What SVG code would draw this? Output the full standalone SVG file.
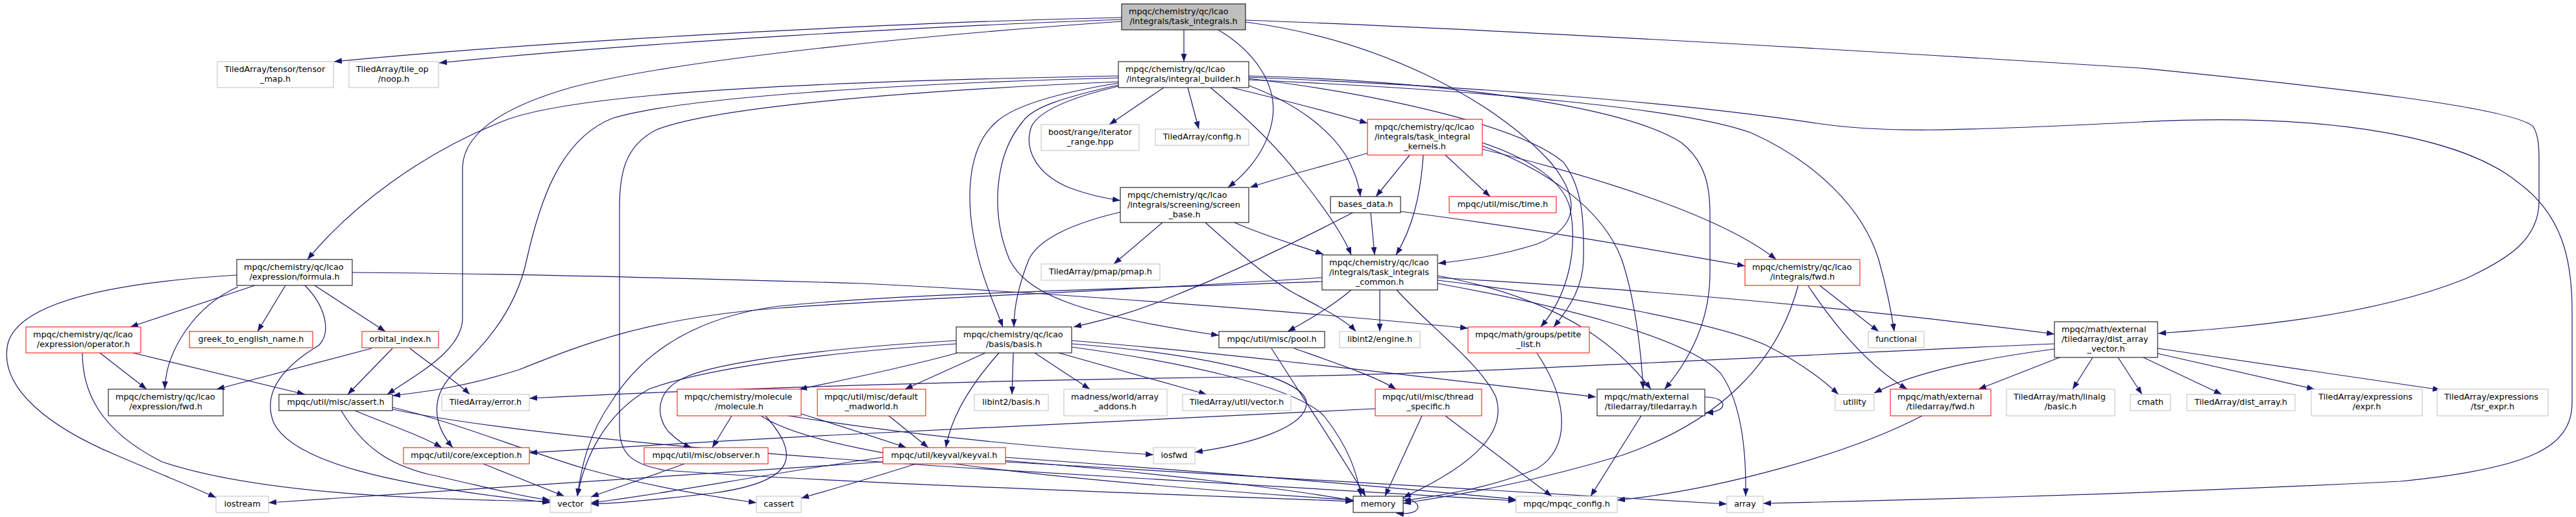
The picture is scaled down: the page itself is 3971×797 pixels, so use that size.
<svg xmlns="http://www.w3.org/2000/svg" width="3971" height="797" viewBox="0 0 3971 797">
<defs>
<marker id="a" markerUnits="userSpaceOnUse" markerWidth="12" markerHeight="9" refX="12" refY="4.5" orient="auto"><path d="M0,0 L12,4.5 L0,9 z" fill="#191970"/></marker>
<style>
rect{fill:#fff;stroke-width:1}
.b rect{stroke:#000}.r rect{stroke:#ff0000}.g rect{stroke:#bfbfbf}.k rect{fill:#bfbfbf;stroke:#000}
text{font-family:"DejaVu Sans","Liberation Sans",sans-serif;font-size:12.8px;fill:#000}
.c{text-anchor:middle}
#edges path{fill:none;stroke:#191970;stroke-width:1.2;marker-end:url(#a)}
</style>
</defs>
<rect x="0" y="0" width="3971" height="797" style="fill:#fff;stroke:none"/>
<g id="edges">
<path d="M1729,27 C1450,33 900,58 515,95"/>
<path d="M1729,30 C1450,40 1000,64 677,97"/>
<path d="M1825,46 L1825,95"/>
<path d="M1878,46 C1935,80 1968,130 1962,180 C1956,225 1928,262 1893,289"/>
<path d="M1729,33 C1450,52 1050,90 880,135 C775,165 713,205 713,260 L713,490 C713,540 645,575 597,608"/>
<path d="M1920,34 C2120,60 2300,150 2390,250 C2440,310 2430,352 2370,376 C2310,395 2260,401 2217,406"/>
<path d="M1920,31 C2300,45 2900,80 3300,105 C3600,135 3870,165 3905,195 C3914,210 3914,230 3914,250 L3914,310 C3914,370 3865,400 3800,430 C3650,490 3450,505 3327,514"/>
<path d="M1724,117 C1300,125 900,140 780,185 C650,235 540,320 474,400"/>
<path d="M1724,120 C1400,128 1050,150 945,182 C860,215 830,320 812,400 C795,480 745,535 705,570 C660,610 668,655 698,690"/>
<path d="M1724,126 C1400,140 1100,165 1012,200 C962,225 955,270 955,320 L955,660 C955,700 975,716 1025,725 C1300,745 1800,762 2086,773"/>
<path d="M1724,128 C1620,145 1562,165 1537,187 C1492,225 1490,300 1500,360 C1510,420 1530,462 1546,504"/>
<path d="M1724,131 C1640,150 1592,165 1577,187 C1532,240 1527,330 1556,400 C1582,452 1660,485 1879,517"/>
<path d="M1724,133 C1652,150 1602,170 1590,195 C1577,232 1600,270 1650,290 C1680,301 1705,306 1727,309"/>
<path d="M1794,135 L1710,192"/>
<path d="M1831,135 L1848,199"/>
<path d="M1866,135 C1920,180 1970,228 2000,268 C2040,318 2070,360 2083,393"/>
<path d="M1899,135 C1980,155 2050,172 2108,190"/>
<path d="M1925,132 C2000,160 2050,200 2075,240 C2090,268 2095,285 2097,303"/>
<path d="M1925,117 C2200,124 2500,160 2592,220 C2630,250 2636,290 2636,330 L2636,420 C2636,500 2600,560 2566,600"/>
<path d="M1925,121 C2150,148 2350,198 2410,250 C2440,290 2442,340 2441,400 C2440,440 2422,472 2395,504"/>
<path d="M1925,123 C2300,140 2600,168 2700,205 C2800,250 2872,322 2896,400 C2910,450 2917,490 2920,511"/>
<path d="M1925,119 C2300,135 2600,160 2800,190 C2900,205 3000,203 3300,188 C3600,172 3800,215 3880,280 C3950,330 3965,400 3965,480 L3965,620 C3965,690 3900,722 3700,742 C3300,762 2900,772 2718,776"/>
<path d="M1727,327 C1650,345 1600,370 1586,400 C1570,440 1563,472 1563,504"/>
<path d="M1792,343 L1717,407"/>
<path d="M1858,343 C1905,385 1955,430 1995,452 C2040,476 2075,494 2090,511"/>
<path d="M1903,343 C1950,364 2000,378 2040,392"/>
<path d="M2108,236 C2050,254 1982,270 1927,289"/>
<path d="M2173,239 L2121,303"/>
<path d="M2194,239 C2190,300 2178,350 2152,393"/>
<path d="M2228,239 L2297,303"/>
<path d="M2285,220 C2360,245 2410,280 2420,320 C2432,380 2420,452 2375,504"/>
<path d="M2285,230 C2450,270 2650,330 2738,400"/>
<path d="M2285,225 C2380,260 2470,320 2500,400 C2520,460 2530,540 2533,600"/>
<path d="M2085,328 C2000,372 1900,420 1800,460 C1740,485 1690,496 1655,504"/>
<path d="M2113,328 L2119,393"/>
<path d="M2159,326 C2350,350 2550,385 2690,410"/>
<path d="M2083,447 C2050,475 2012,496 1985,511"/>
<path d="M2127,447 L2127,511"/>
<path d="M2153,447 C2200,500 2282,560 2306,612 C2322,662 2282,712 2163,767"/>
<path d="M2038,428 C1700,450 1400,460 1200,475 C1000,490 900,530 800,570 C720,595 665,603 605,610"/>
<path d="M2038,434 C1700,447 1400,452 1200,472 C1050,492 980,560 942,620 C907,670 896,720 890,765"/>
<path d="M2216,432 C2450,460 2650,500 2722,532 C2782,562 2815,590 2834,608"/>
<path d="M2216,428 C2600,450 2900,480 3167,515"/>
<path d="M2216,437 C2400,470 2600,520 2652,575 C2686,622 2692,700 2691,765"/>
<path d="M2216,425 C2350,450 2470,500 2545,600"/>
<path d="M365,424 C200,434 30,460 12,530 C-3,600 80,660 180,702 C250,732 300,752 333,767"/>
<path d="M393,440 L201,504"/>
<path d="M367,442 C300,472 256,540 254,600"/>
<path d="M440,440 L397,511"/>
<path d="M485,440 L594,511"/>
<path d="M470,440 C500,470 512,510 492,532 C442,562 402,602 422,652 C452,712 600,748 848,775"/>
<path d="M543,420 C800,422 1100,430 1330,437 C1600,450 2000,480 2263,506"/>
<path d="M127,544 C127,600 150,662 250,712 C400,762 650,770 848,773"/>
<path d="M154,544 L226,600"/>
<path d="M205,544 L470,608"/>
<path d="M573,537 L334,600"/>
<path d="M605,537 L536,608"/>
<path d="M632,537 C660,560 702,586 724,608"/>
<path d="M547,633 C600,655 650,672 681,690"/>
<path d="M526,633 C560,690 600,716 660,731 C750,751 800,765 848,771"/>
<path d="M605,628 C700,650 800,692 900,722 C1000,750 1100,766 1166,775"/>
<path d="M605,631 C800,672 1200,702 1500,722 C1900,747 2150,762 2337,772"/>
<path d="M745,715 L870,765"/>
<path d="M1055,715 C1000,735 950,752 911,766"/>
<path d="M1128,641 L1098,690"/>
<path d="M1180,641 C1232,700 1232,742 1100,760 C1000,772 950,776 911,777"/>
<path d="M1235,638 C1300,658 1352,675 1397,690"/>
<path d="M1215,641 C1400,670 1600,690 1778,701"/>
<path d="M1173,641 C1250,692 1500,732 2086,771"/>
<path d="M1370,641 L1431,690"/>
<path d="M1476,544 C1400,565 1300,586 1232,600"/>
<path d="M1519,544 L1395,600"/>
<path d="M1540,544 C1490,600 1465,650 1458,690"/>
<path d="M1562,544 L1560,608"/>
<path d="M1595,544 L1680,600"/>
<path d="M1632,544 L1860,608"/>
<path d="M1474,525 C1300,535 1120,555 1060,580 C1010,600 1010,640 1030,665 C1045,680 1055,686 1066,690"/>
<path d="M1474,530 C1250,545 1080,570 1000,600 C930,640 900,710 890,765"/>
<path d="M2120,630 C1800,645 1500,660 1300,670 C1100,680 950,690 816,698"/>
<path d="M1652,525 C1900,545 2200,582 2460,612"/>
<path d="M1652,530 C1850,545 2010,580 2014,620 C2016,660 1920,686 1842,697"/>
<path d="M1652,535 C1800,555 1990,592 2040,640 C2080,690 2092,730 2098,765"/>
<path d="M1995,537 C2060,560 2120,580 2152,600"/>
<path d="M1960,537 C2000,600 2060,690 2105,765"/>
<path d="M2192,641 L2135,765"/>
<path d="M2228,641 L2392,765"/>
<path d="M2369,544 C2420,620 2420,692 2370,722 C2300,752 2220,764 2163,772"/>
<path d="M2530,641 L2452,765"/>
<path d="M2628,612 C2665,612 2665,636 2629,636"/>
<path d="M2772,440 C2740,560 2650,650 2500,702 C2350,747 2250,762 2163,776"/>
<path d="M2787,440 C2840,520 2890,570 2940,600"/>
<path d="M2805,440 L2896,511"/>
<path d="M3167,530 C2800,545 2300,575 1990,580 C1500,586 1100,600 816,614"/>
<path d="M3167,538 C3000,560 2930,585 2889,606"/>
<path d="M3175,551 L3050,600"/>
<path d="M3226,551 L3195,600"/>
<path d="M3265,551 L3302,608"/>
<path d="M3304,551 L3425,608"/>
<path d="M3326,545 L3568,600"/>
<path d="M3326,537 L3762,601"/>
<path d="M2963,641 C2850,700 2650,755 2493,771"/>
<path d="M1361,712 C1100,727 800,747 414,775"/>
<path d="M1361,705 C1200,727 1000,766 911,775"/>
<path d="M1412,715 C1350,735 1290,752 1235,768"/>
<path d="M1550,710 C1800,730 2000,756 2086,772"/>
<path d="M1550,705 C1900,730 2200,756 2337,770"/>
<path d="M1550,712 C2000,740 2400,762 2662,777"/>
<path d="M2163,768 C2195,772 2195,796 2152,791"/>
</g>
<g id="n0" class="k"><rect x="1729" y="6" width="191" height="40"/><text x="1740" y="22">mpqc/chemistry/qc/lcao</text><text class="c" x="1824.5" y="37">/integrals/task_integrals.h</text></g>
<g id="n1" class="g"><rect x="335" y="95" width="179" height="40"/><text x="346" y="111">TiledArray/tensor/tensor</text><text class="c" x="424.5" y="126">_map.h</text></g>
<g id="n2" class="g"><rect x="538" y="95" width="138" height="40"/><text x="549" y="111">TiledArray/tile_op</text><text class="c" x="607" y="126">/noop.h</text></g>
<g id="n3" class="b"><rect x="1724" y="95" width="201" height="40"/><text x="1735" y="111">mpqc/chemistry/qc/lcao</text><text class="c" x="1824.5" y="126">/integrals/integral_builder.h</text></g>
<g id="n4" class="g"><rect x="1605" y="192" width="151" height="40"/><text x="1616" y="208">boost/range/iterator</text><text class="c" x="1680.5" y="223">_range.hpp</text></g>
<g id="n5" class="g"><rect x="1781" y="199" width="144" height="25"/><text class="c" x="1853" y="215">TiledArray/config.h</text></g>
<g id="n6" class="r"><rect x="2108" y="184" width="177" height="55"/><text x="2119" y="200">mpqc/chemistry/qc/lcao</text><text x="2119" y="215">/integrals/task_integral</text><text class="c" x="2196.5" y="230">_kernels.h</text></g>
<g id="n7" class="b"><rect x="1727" y="289" width="198" height="54"/><text x="1738" y="305">mpqc/chemistry/qc/lcao</text><text x="1738" y="320">/integrals/screening/screen</text><text class="c" x="1826" y="335">_base.h</text></g>
<g id="n8" class="b"><rect x="2051" y="303" width="108" height="25"/><text class="c" x="2105" y="319">bases_data.h</text></g>
<g id="n9" class="r"><rect x="2234" y="303" width="165" height="25"/><text class="c" x="2316.5" y="319">mpqc/util/misc/time.h</text></g>
<g id="n10" class="b"><rect x="2038" y="393" width="178" height="54"/><text x="2049" y="409">mpqc/chemistry/qc/lcao</text><text x="2049" y="424">/integrals/task_integrals</text><text class="c" x="2127" y="439">_common.h</text></g>
<g id="n11" class="b"><rect x="365" y="400" width="178" height="40"/><text x="376" y="416">mpqc/chemistry/qc/lcao</text><text class="c" x="454" y="431">/expression/formula.h</text></g>
<g id="n12" class="g"><rect x="1605" y="407" width="183" height="25"/><text class="c" x="1696.5" y="423">TiledArray/pmap/pmap.h</text></g>
<g id="n13" class="r"><rect x="2690" y="400" width="177" height="40"/><text x="2701" y="416">mpqc/chemistry/qc/lcao</text><text class="c" x="2778.5" y="431">/integrals/fwd.h</text></g>
<g id="n14" class="r"><rect x="40" y="504" width="177" height="40"/><text x="51" y="520">mpqc/chemistry/qc/lcao</text><text class="c" x="128.5" y="535">/expression/operator.h</text></g>
<g id="n15" class="r"><rect x="292" y="511" width="190" height="25"/><text class="c" x="387" y="527">greek_to_english_name.h</text></g>
<g id="n16" class="r"><rect x="558" y="511" width="118" height="25"/><text class="c" x="617" y="527">orbital_index.h</text></g>
<g id="n17" class="b"><rect x="1474" y="504" width="178" height="40"/><text x="1485" y="520">mpqc/chemistry/qc/lcao</text><text class="c" x="1563" y="535">/basis/basis.h</text></g>
<g id="n18" class="b"><rect x="1879" y="511" width="163" height="25"/><text class="c" x="1960.5" y="527">mpqc/util/misc/pool.h</text></g>
<g id="n19" class="g"><rect x="2065" y="511" width="124" height="25"/><text class="c" x="2127" y="527">libint2/engine.h</text></g>
<g id="n20" class="r"><rect x="2263" y="504" width="187" height="40"/><text x="2274" y="520">mpqc/math/groups/petite</text><text class="c" x="2356.5" y="535">_list.h</text></g>
<g id="n21" class="g"><rect x="2880" y="511" width="86" height="25"/><text class="c" x="2923" y="527">functional</text></g>
<g id="n22" class="b"><rect x="3167" y="496" width="159" height="55"/><text x="3178" y="512">mpqc/math/external</text><text x="3178" y="527">/tiledarray/dist_array</text><text class="c" x="3246.5" y="542">_vector.h</text></g>
<g id="n23" class="b"><rect x="167" y="600" width="177" height="41"/><text x="178" y="616">mpqc/chemistry/qc/lcao</text><text class="c" x="255.5" y="631">/expression/fwd.h</text></g>
<g id="n24" class="b"><rect x="430" y="608" width="175" height="25"/><text class="c" x="517.5" y="624">mpqc/util/misc/assert.h</text></g>
<g id="n25" class="g"><rect x="681" y="608" width="135" height="25"/><text class="c" x="748.5" y="624">TiledArray/error.h</text></g>
<g id="n26" class="r"><rect x="1044" y="600" width="191" height="41"/><text x="1055" y="616">mpqc/chemistry/molecule</text><text class="c" x="1139.5" y="631">/molecule.h</text></g>
<g id="n27" class="r"><rect x="1260" y="600" width="167" height="41"/><text x="1271" y="616">mpqc/util/misc/default</text><text class="c" x="1343.5" y="631">_madworld.h</text></g>
<g id="n28" class="g"><rect x="1502" y="608" width="114" height="25"/><text class="c" x="1559" y="624">libint2/basis.h</text></g>
<g id="n29" class="g"><rect x="1640" y="600" width="159" height="41"/><text x="1651" y="616">madness/world/array</text><text class="c" x="1719.5" y="631">_addons.h</text></g>
<g id="n30" class="g"><rect x="1823" y="608" width="167" height="25"/><text class="c" x="1906.5" y="624">TiledArray/util/vector.h</text></g>
<g id="n31" class="r"><rect x="2120" y="600" width="164" height="41"/><text x="2131" y="616">mpqc/util/misc/thread</text><text class="c" x="2202" y="631">_specific.h</text></g>
<g id="n32" class="b"><rect x="2462" y="600" width="166" height="41"/><text x="2473" y="616">mpqc/math/external</text><text class="c" x="2545" y="631">/tiledarray/tiledarray.h</text></g>
<g id="n33" class="g"><rect x="2829" y="608" width="60" height="25"/><text class="c" x="2859" y="624">utility</text></g>
<g id="n34" class="r"><rect x="2914" y="600" width="155" height="41"/><text x="2925" y="616">mpqc/math/external</text><text class="c" x="2991.5" y="631">/tiledarray/fwd.h</text></g>
<g id="n35" class="g"><rect x="3093" y="600" width="167" height="41"/><text x="3104" y="616">TiledArray/math/linalg</text><text class="c" x="3176.5" y="631">/basic.h</text></g>
<g id="n36" class="g"><rect x="3284" y="608" width="62" height="25"/><text class="c" x="3315" y="624">cmath</text></g>
<g id="n37" class="g"><rect x="3371" y="608" width="167" height="25"/><text class="c" x="3454.5" y="624">TiledArray/dist_array.h</text></g>
<g id="n38" class="g"><rect x="3563" y="600" width="171" height="41"/><text x="3574" y="616">TiledArray/expressions</text><text class="c" x="3648.5" y="631">/expr.h</text></g>
<g id="n39" class="g"><rect x="3757" y="600" width="171" height="41"/><text x="3768" y="616">TiledArray/expressions</text><text class="c" x="3842.5" y="631">/tsr_expr.h</text></g>
<g id="n40" class="r"><rect x="622" y="690" width="194" height="25"/><text class="c" x="719" y="706">mpqc/util/core/exception.h</text></g>
<g id="n41" class="r"><rect x="993" y="690" width="191" height="25"/><text class="c" x="1088.5" y="706">mpqc/util/misc/observer.h</text></g>
<g id="n42" class="r"><rect x="1361" y="690" width="189" height="25"/><text class="c" x="1455.5" y="706">mpqc/util/keyval/keyval.h</text></g>
<g id="n43" class="g"><rect x="1778" y="690" width="64" height="25"/><text class="c" x="1810" y="706">iosfwd</text></g>
<g id="n44" class="g"><rect x="333" y="765" width="81" height="25"/><text class="c" x="373.5" y="781">iostream</text></g>
<g id="n45" class="g"><rect x="848" y="765" width="63" height="25"/><text class="c" x="879.5" y="781">vector</text></g>
<g id="n46" class="g"><rect x="1166" y="765" width="69" height="25"/><text class="c" x="1200.5" y="781">cassert</text></g>
<g id="n47" class="b"><rect x="2086" y="765" width="77" height="25"/><text class="c" x="2124.5" y="781">memory</text></g>
<g id="n48" class="g"><rect x="2337" y="765" width="156" height="25"/><text class="c" x="2415" y="781">mpqc/mpqc_config.h</text></g>
<g id="n49" class="g"><rect x="2662" y="765" width="56" height="25"/><text class="c" x="2690" y="781">array</text></g>
</svg>
